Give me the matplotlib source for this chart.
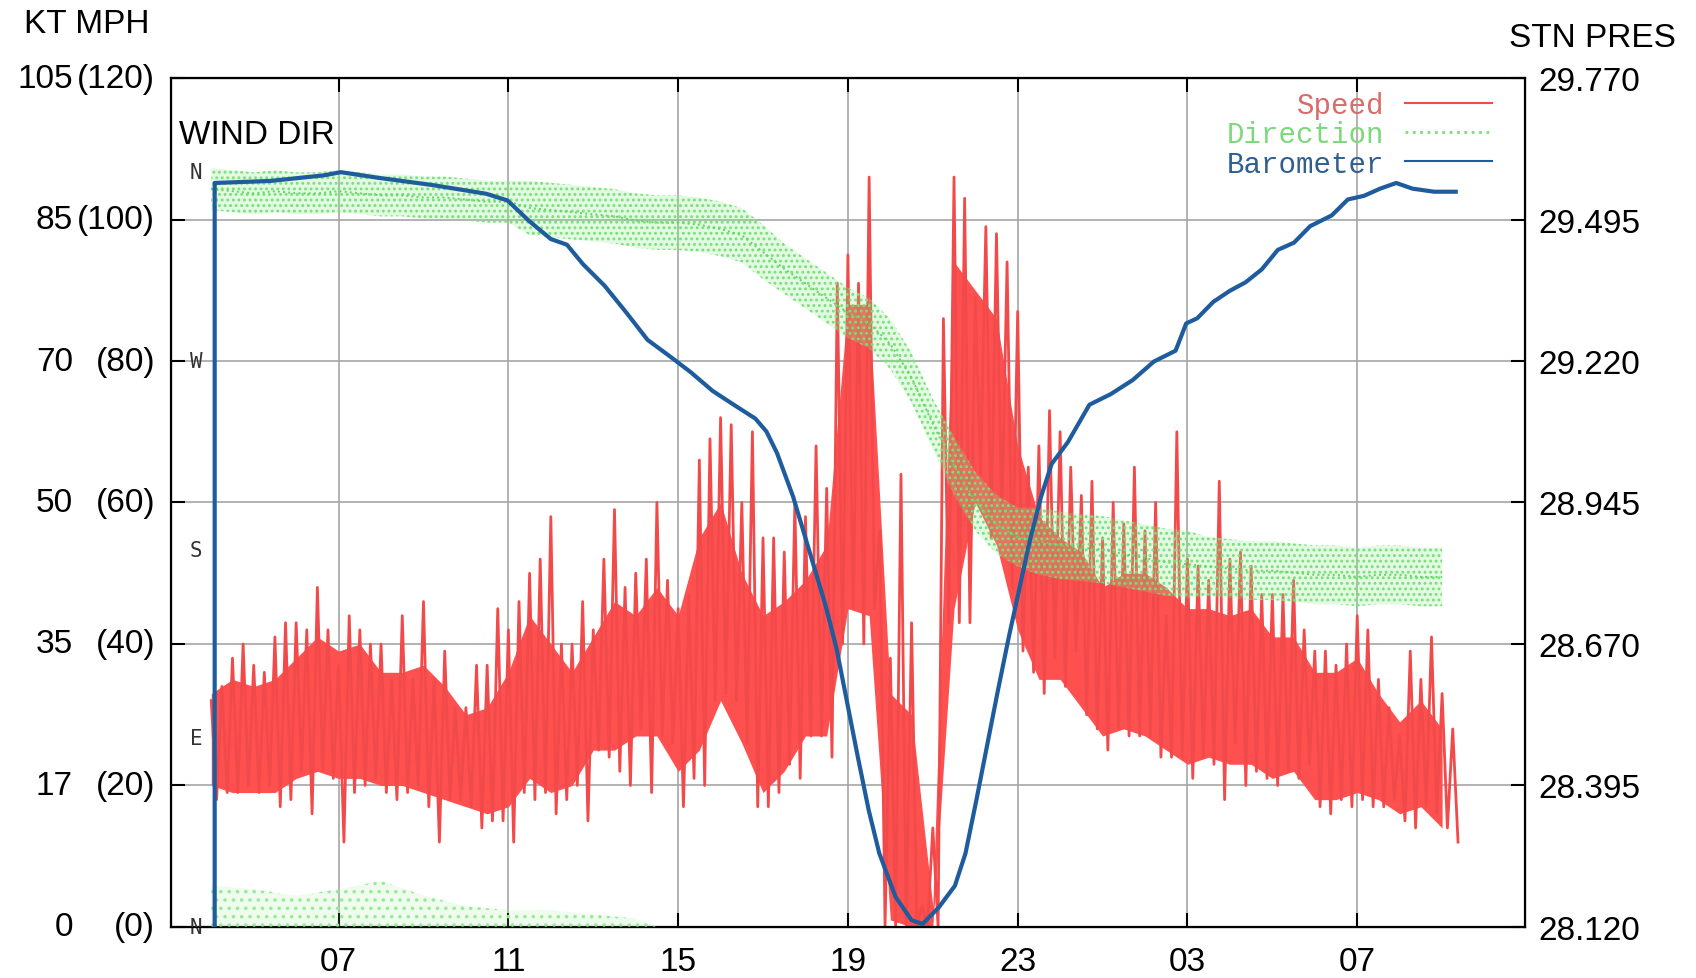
import numpy as np
import matplotlib.pyplot as plt
from matplotlib.lines import Line2D
from matplotlib.transforms import blended_transform_factory

# time in hours from midnight of day 1 (27 = 03 next day)
t_start = 4.0

# wind speed (mph), max / min of each quarter hour from 04:00
speed_hi = [32, 34, 38, 40, 37, 36, 41, 43, 43, 42, 48, 42, 37, 44, 42, 40,
            40, 35, 44, 35, 46, 35, 39, 31, 31, 37, 37, 45, 42, 46, 50, 52,
            58, 40, 40, 46, 42, 52, 59, 48, 50, 52, 60, 49, 45, 47, 66, 69,
            72, 71, 60, 70, 55, 55, 53, 60, 58, 68, 62, 91, 95, 91, 106, 56,
            38, 64, 43, 3, 14, 86, 106, 103, 89, 99, 98, 94, 87, 65, 68, 73,
            70, 65, 61, 63, 55, 60, 57, 65, 56, 60, 44, 70, 52, 51, 49, 63,
            52, 53, 51, 47, 47, 47, 49, 42, 39, 39, 37, 40, 44, 42, 35, 31,
            27, 39, 35, 41, 33, 28]
speed_lo = [18, 19, 19, 20, 19, 20, 17, 18, 22, 16, 22, 21, 12, 19, 20, 21,
            19, 18, 19, 20, 17, 12, 18, 18, 17, 14, 15, 15, 12, 19, 18, 19,
            16, 18, 20, 15, 25, 24, 22, 20, 28, 19, 27, 26, 17, 21, 20, 32,
            33, 32, 26, 17, 17, 19, 23, 21, 27, 27, 24, 40, 45, 40, 45, 0,
            0, 0, 0, 0, 0, 43, 43, 43, 64, 55, 57, 48, 39, 36, 33, 38,
            34, 39, 30, 28, 25, 28, 27, 27, 27, 24, 24, 24, 21, 24, 23, 18,
            26, 20, 22, 21, 20, 22, 21, 23, 17, 16, 18, 17, 18, 17, 17, 18,
            15, 14, 17, 16, 14, 12]

# dense part of the speed trace (mph), every half hour from 04:00
core_lo = [20, 19, 19, 19, 21, 22, 21, 21, 20, 20, 19, 18, 17, 16, 17, 21,
           19, 20, 25, 25, 27, 27, 22, 25, 32, 26, 19, 22, 27, 27, 45, 44,
           1, 0, 0, 45, 60, 54, 42, 35, 35, 31, 27, 28, 27, 25, 23, 24,
           23, 23, 21, 22, 18, 18, 19, 18, 16, 17, 14]
core_hi = [33, 35, 34, 35, 38, 41, 39, 40, 36, 36, 37, 34, 30, 31, 36, 44,
           40, 36, 41, 46, 44, 48, 44, 55, 60, 50, 44, 46, 49, 54, 88, 88,
           33, 30, 3, 94, 90, 86, 68, 58, 55, 53, 48, 50, 50, 48, 45, 45,
           44, 45, 41, 41, 36, 36, 38, 33, 29, 32, 28]

# wind direction (deg), centre and half width of the dot cloud, every half hour
dir_mid = [352, 351, 350, 351, 350, 350, 351, 350, 349, 349, 348, 348, 347,
           346, 346, 343, 342, 341, 340, 339, 337, 336, 336, 335, 333, 330,
           322, 314, 307, 300, 293, 288, 278, 262, 240, 220, 203, 192, 186,
           184, 182, 181, 180, 178, 176, 174, 173, 172, 171, 170, 170, 169,
           168, 168, 167, 168, 168, 167, 167]
dir_width = [10] * 15 + [13] * 12 + [12] * 8 + [14] * 4 + [16] * 8 + [14] * 12

# readings just past north that wrap to the bottom of the chart
wrap_t = [4.0, 5.0, 6.0, 7.0, 8.0, 9.0, 10.0, 11.0, 12.0, 13.0, 14.0, 14.5]
wrap_hi = [20, 18, 15, 18, 22, 15, 10, 8, 8, 6, 4, 0]

# station pressure (inHg)
baro_t = [4.08, 4.08, 5.40, 6.67, 7.05, 7.94, 9.21, 10.48, 10.98, 11.49, 12.00,
          12.38, 12.76, 13.27, 13.78, 14.28, 14.79, 15.30, 15.81, 16.31, 16.82,
          17.08, 17.33, 17.71, 18.09, 18.47, 18.73, 18.98, 19.23, 19.49, 19.74,
          20.12, 20.50, 20.76, 21.14, 21.52, 21.77, 22.03, 22.28, 22.53, 22.79,
          23.04, 23.29, 23.55, 23.80, 24.18, 24.69, 25.20, 25.71, 26.21, 26.72,
          26.97, 27.23, 27.61, 27.99, 28.37, 28.75, 29.13, 29.51, 29.89, 30.40,
          30.78, 31.16, 31.54, 31.92, 32.30, 32.81, 33.32]
baro_p = [28.120, 29.566, 29.570, 29.581, 29.587, 29.576, 29.562, 29.545, 29.532,
          29.492, 29.457, 29.446, 29.408, 29.366, 29.314, 29.261, 29.230, 29.198,
          29.162, 29.135, 29.108, 29.083, 29.041, 28.956, 28.851, 28.746, 28.662,
          28.557, 28.452, 28.347, 28.263, 28.179, 28.133, 28.126, 28.158, 28.200,
          28.263, 28.368, 28.473, 28.578, 28.683, 28.778, 28.872, 28.956, 29.020,
          29.062, 29.135, 29.156, 29.183, 29.219, 29.240, 29.293, 29.303, 29.335,
          29.356, 29.373, 29.398, 29.436, 29.450, 29.482, 29.503, 29.534, 29.541,
          29.555, 29.566, 29.555, 29.549, 29.549]

kt_labels = ["0", "17", "35", "50", "70", "85", "105"]
mph_ticks = [0, 20, 40, 60, 80, 100, 120]
dir_labels = ["N", "E", "S", "W", "N"]
dir_ticks = [0, 90, 180, 270, 360]
pres_ticks = [28.120, 28.395, 28.670, 28.945, 29.220, 29.495, 29.770]
hour_ticks = [7, 11, 15, 19, 23, 27, 31]

RED = "#f24a4a"
GREEN = "#79e079"
BLUE = "#1f5c9e"

plt.rcParams["font.family"] = ["Liberation Sans", "DejaVu Sans"]
plt.rcParams["hatch.linewidth"] = 1.3

n = len(speed_hi)
speed_t = t_start + 0.125 * np.arange(2 * n)
speed = np.empty(2 * n)
speed[0::2] = speed_hi
speed[1::2] = speed_lo
core_t = t_start + 0.5 * np.arange(len(core_lo))
dir_t = t_start + 0.5 * np.arange(len(dir_mid))
dir_mid = np.array(dir_mid)
dir_width = np.array(dir_width)

fig = plt.figure(figsize=(16.96, 9.79), dpi=100)
ax = fig.add_axes([0.1008, 0.0521, 0.7983, 0.8672])

# speed
ax.fill_between(core_t, core_lo, core_hi, color="#ff5050", lw=0)
ax.plot(speed_t, speed, color=RED, lw=2.0)
ax.set_xlim(3.05, 34.95)
ax.set_ylim(0, 120)
ax.set_yticks(mph_ticks)
ax.set_xticks(hour_ticks)
ax.set_xticklabels(["%02d" % (h % 24) for h in hour_ticks])
ax.tick_params(axis="y", direction="in", length=10, width=1.5, labelleft=False)
ax.tick_params(axis="x", direction="in", length=10, width=1.5, top=True,
               labelsize=24, pad=14)
ax.grid(color="#a6a6a6", lw=1.2)
ax.set_axisbelow(True)
for s in ax.spines.values():
    s.set_linewidth(1.6)

# left labels: knots and (mph)
tr = blended_transform_factory(fig.transFigure, ax.transData)
for kt, mph in zip(kt_labels, mph_ticks):
    ax.text(0.043, mph, kt, transform=tr, ha="right", va="center", fontsize=24)
    ax.text(0.0915, mph, "(%d)" % mph, transform=tr, ha="right", va="center",
            fontsize=24)

# direction
ax_dir = ax.twinx()
ax_dir.set_ylim(0, 405)
ax_dir.axis("off")
ax_dir.fill_between(dir_t, dir_mid - dir_width, dir_mid + dir_width,
                    facecolor=(0.55, 0.92, 0.55, 0.25), edgecolor=GREEN,
                    hatch="...", lw=0)
ax_dir.plot(dir_t, dir_mid, color="#5fd85f", lw=1.4, ls=":")
ax_dir.fill_between(wrap_t, 0, wrap_hi, facecolor=(0.55, 0.92, 0.55, 0.15),
                    edgecolor="#9ae89a", hatch="..", lw=0)
for d, lab in zip(dir_ticks, dir_labels):
    ax_dir.text(3.65, d, lab, ha="center", va="center", fontsize=15,
                family="DejaVu Sans Mono", color="#333333")

# barometer
ax_p = ax.twinx()
ax_p.plot(baro_t, baro_p, color=BLUE, lw=3.0)
ax_p.set_ylim(28.12, 29.77)
ax_p.set_yticks(pres_ticks)
ax_p.set_yticklabels(["%.3f" % p for p in pres_ticks])
ax_p.tick_params(axis="y", direction="in", length=10, width=1.5, labelsize=24,
                 pad=10)
ax_p.set_xlim(3.05, 34.95)

fig.text(0.014, 0.975, "KT MPH", fontsize=24, va="center")
fig.text(0.89, 0.961, "STN PRES", fontsize=24, va="center")
ax.text(0.006, 0.934, "WIND DIR", transform=ax.transAxes, fontsize=24,
        va="center")

handles = [Line2D([], [], color=RED, lw=1.5),
           Line2D([], [], color=GREEN, lw=2, ls=":"),
           Line2D([], [], color=BLUE, lw=1.5)]
leg = ax_p.legend(handles, ["Speed", "Direction", "Barometer"],
                  loc="upper right", bbox_to_anchor=(0.976, 0.985),
                  frameon=False, markerfirst=False, borderpad=0,
                  borderaxespad=0, handlelength=3.0, handletextpad=0.7,
                  labelspacing=0.05,
                  prop={"family": "Liberation Mono", "size": 21},
                  labelcolor=["#d86c6c", "#7cd87c", "#2f5f8f"])

fig.savefig("out.png", dpi=100)
